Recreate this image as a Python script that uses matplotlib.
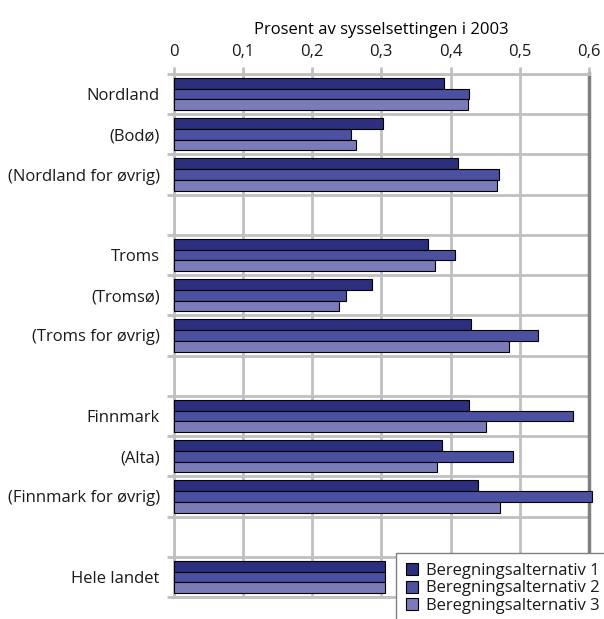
import numpy as np
import matplotlib
matplotlib.use("Agg")
import matplotlib.pyplot as plt
from matplotlib.ticker import FixedLocator

# rows from top to bottom; "" marks a spacer row
categories = ["Nordland", "(Bodø)", "(Nordland for øvrig)", "",
              "Troms", "(Tromsø)", "(Troms for øvrig)", "",
              "Finnmark", "(Alta)", "(Finnmark for øvrig)", "",
              "Hele landet"]
alt1 = [0.390, 0.303, 0.411, None, 0.367, 0.286, 0.429, None, 0.427, 0.387, 0.440, None, 0.306]
alt2 = [0.427, 0.256, 0.470, None, 0.406, 0.249, 0.527, None, 0.577, 0.491, 0.604, None, 0.306]
alt3 = [0.426, 0.263, 0.467, None, 0.378, 0.239, 0.485, None, 0.451, 0.381, 0.472, None, 0.306]
series_names = ["Beregningsalternativ 1", "Beregningsalternativ 2", "Beregningsalternativ 3"]
xticks = [0, 0.1, 0.2, 0.3, 0.4, 0.5, 0.6]
xticklabels = ["0", "0,1", "0,2", "0,3", "0,4", "0,5", "0,6"]

plt.rcParams["font.family"] = ["Open Sans", "DejaVu Sans"]
plt.rcParams["text.color"] = "#1a1a1a"
colors = ["#2b2f7d", "#4b50a0", "#7b7bba"]
fs = 12

fig = plt.figure(figsize=(6.04, 6.19), dpi=100)
ax = fig.add_axes([0.2876, 0.0355, 0.975 - 0.2876, 0.8805 - 0.0355])

y = np.arange(len(categories))
h = 0.8 / 3
for i, (vals, c, name) in enumerate(zip([alt1, alt2, alt3], colors, series_names)):
    v = np.array([np.nan if x is None else x for x in vals], float)
    ax.barh(y - h + i * h, v, height=h, color=c, edgecolor="black", linewidth=0.8,
            label=name, zorder=3, clip_on=False)

ax.set_xlim(0, 0.6)
ax.set_ylim(len(categories) - 0.5, -0.5)
ax.set_yticks(y)
ax.set_yticklabels(categories, fontsize=fs, color="#1a1a1a")
ax.yaxis.set_minor_locator(FixedLocator(np.arange(-0.5, len(categories), 1.0)))
ax.tick_params(axis="y", which="major", length=0, pad=10)
ax.tick_params(axis="y", which="minor", length=5, width=2, color="#c0c0c0")

ax.xaxis.tick_top()
ax.xaxis.set_label_position("top")
ax.set_xticks(xticks)
ax.set_xticklabels(xticklabels, fontsize=fs, color="#1a1a1a")
ax.tick_params(axis="x", length=5, width=2, color="#c0c0c0", pad=5)
ax.set_xlabel("Prosent av sysselsettingen i 2003", fontsize=fs, labelpad=7)

ax.grid(True, axis="x", which="major", color="#c0c0c0", lw=2, zorder=0)
ax.grid(True, axis="y", which="minor", color="#c0c0c0", lw=2, zorder=0)
ax.set_axisbelow(True)
for s in ["left", "top", "bottom"]:
    ax.spines[s].set_color("#c0c0c0")
    ax.spines[s].set_linewidth(2)
ax.spines["right"].set_color("#808080")
ax.spines["right"].set_linewidth(2.5)

leg = fig.legend(loc="upper left", bbox_to_anchor=(0.655, 0.107), fontsize=fs,
                 frameon=True, fancybox=False, edgecolor="#808080", framealpha=1,
                 handlelength=0.75, handleheight=0.75, handletextpad=0.5,
                 labelspacing=0.1, borderpad=0.6, borderaxespad=0)
leg.set_zorder(10)

fig.savefig("out.png", dpi=100)
